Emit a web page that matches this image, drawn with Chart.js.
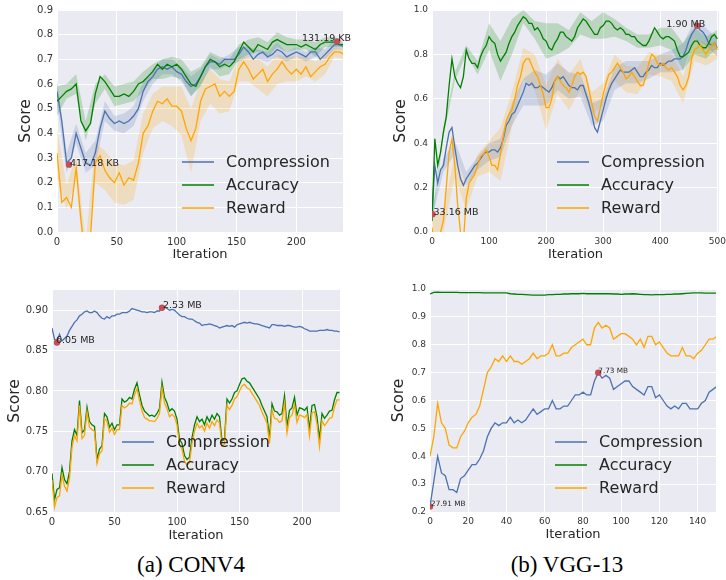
<!DOCTYPE html>
<html>
<head>
<meta charset="utf-8">
<script src="https://cdn.jsdelivr.net/npm/chart.js@4.4.0/dist/chart.umd.min.js"></script>
<style>
  body { margin: 0; width: 726px; height: 580px; overflow: hidden; background: #fff; position: relative; }
  canvas { position: absolute; }
  .caption { position: absolute; width: 220px; text-align: center; font-family: "Liberation Serif", serif; font-size: 23px; line-height: 26px; color: #000; }
</style>
</head>
<body>
<canvas id="conv4-search" width="363" height="270" style="left:0;top:0"></canvas>
<canvas id="vgg13-search" width="380" height="270" style="left:363px;top:0"></canvas>
<canvas id="conv4-tune" width="363" height="275" style="left:0;top:270px"></canvas>
<canvas id="vgg13-tune" width="380" height="275" style="left:363px;top:270px"></canvas>
<div class="caption" style="left:81px;top:552px">(a) CONV4</div>
<div class="caption" style="left:457px;top:552px">(b) VGG-13</div>
<script>
// ─── DADOS ───────────────────────────────────────────────────────────────────

const SERIES_NAMES = ["Compression", "Accuracy", "Reward"];

// CONV4, topo: uma leitura a cada 4 iterações
const conv4SearchStep = 4;
const conv4SearchCompression = [
  0.57, 0.45, 0.28, 0.30, 0.40, 0.34, 0.28, 0.27, 0.32, 0.42,
  0.49, 0.46, 0.44, 0.45, 0.44, 0.45, 0.47, 0.50, 0.57, 0.61,
  0.63, 0.66, 0.67, 0.66, 0.67, 0.65, 0.64, 0.61, 0.59, 0.60,
  0.63, 0.67, 0.69, 0.69, 0.68, 0.70, 0.70, 0.70, 0.72, 0.75,
  0.73, 0.70, 0.72, 0.73, 0.71, 0.72, 0.74, 0.73, 0.71, 0.72,
  0.73, 0.72, 0.71, 0.73, 0.73, 0.70, 0.72, 0.74, 0.76, 0.76, 0.75
];
const conv4SearchAccuracy = [
  0.53, 0.55, 0.57, 0.58, 0.60, 0.45, 0.41, 0.44, 0.56, 0.63,
  0.61, 0.58, 0.55, 0.55, 0.56, 0.55, 0.57, 0.60, 0.61, 0.63,
  0.65, 0.68, 0.66, 0.68, 0.67, 0.68, 0.66, 0.63, 0.60, 0.59,
  0.63, 0.67, 0.70, 0.69, 0.67, 0.68, 0.67, 0.69, 0.73, 0.77,
  0.75, 0.73, 0.76, 0.75, 0.74, 0.77, 0.78, 0.77, 0.76, 0.76,
  0.76, 0.75, 0.76, 0.75, 0.74, 0.76, 0.77, 0.77, 0.77, 0.76, 0.76
];
const conv4SearchReward = [
  0.32, 0.12, 0.14, 0.10, 0.26, 0.05, -0.12, -0.02, 0.28, 0.31,
  0.25, 0.22, 0.20, 0.24, 0.19, 0.22, 0.21, 0.28, 0.40, 0.43,
  0.49, 0.53, 0.52, 0.54, 0.51, 0.51, 0.49, 0.42, 0.37, 0.42,
  0.53, 0.58, 0.59, 0.60, 0.55, 0.57, 0.55, 0.57, 0.66, 0.69,
  0.66, 0.62, 0.64, 0.66, 0.61, 0.64, 0.66, 0.69, 0.66, 0.64,
  0.66, 0.64, 0.67, 0.63, 0.65, 0.67, 0.68, 0.71, 0.73, 0.73, 0.72
];
// meia largura da faixa sombreada, a cada 8 iterações
const conv4SearchSpreadStep = 8;
const conv4SearchCompressionSpread = [
  0.05, 0.04, 0.04, 0.04, 0.05, 0.04, 0.03, 0.04, 0.04, 0.04,
  0.03, 0.03, 0.03, 0.03, 0.04, 0.03, 0.03, 0.02, 0.02, 0.03,
  0.02, 0.02, 0.02, 0.03, 0.02, 0.02, 0.02, 0.02, 0.02, 0.02, 0.01
];
const conv4SearchAccuracySpread = [
  0.06, 0.03, 0.04, 0.04, 0.04, 0.03, 0.04, 0.04, 0.04, 0.04,
  0.03, 0.04, 0.04, 0.04, 0.05, 0.04, 0.03, 0.04, 0.03, 0.03,
  0.03, 0.03, 0.03, 0.03, 0.03, 0.02, 0.02, 0.03, 0.02, 0.02, 0.01
];
const conv4SearchRewardSpread = [
  0.10, 0.05, 0.05, 0.08, 0.08, 0.08, 0.08, 0.08, 0.08, 0.08,
  0.07, 0.07, 0.08, 0.10, 0.13, 0.08, 0.07, 0.07, 0.06, 0.05,
  0.05, 0.06, 0.06, 0.06, 0.05, 0.05, 0.04, 0.04, 0.04, 0.02, 0.02
];
const conv4SearchMarks = [
  { x: 10, y: 0.273, label: "417.18 KB" },
  { x: 234, y: 0.773, label: "131.19 KB" }
];
const conv4SearchTicksX = [0, 50, 100, 150, 200];
const conv4SearchTicksY = [0.0, 0.1, 0.2, 0.3, 0.4, 0.5, 0.6, 0.7, 0.8, 0.9];

// VGG-13, topo: uma leitura a cada 5 iterações
const vgg13SearchStep = 5;
const vgg13SearchCompression = [
  0.08, 0.30, 0.22, 0.28, 0.30, 0.38, 0.45, 0.47, 0.38, 0.30,
  0.24, 0.21, 0.24, 0.26, 0.28, 0.30, 0.31, 0.33, 0.35, 0.36,
  0.36, 0.37, 0.37, 0.36, 0.38, 0.42, 0.48, 0.50, 0.53, 0.54,
  0.57, 0.60, 0.63, 0.67, 0.66, 0.67, 0.65, 0.65, 0.66, 0.65,
  0.64, 0.63, 0.65, 0.68, 0.70, 0.69, 0.70, 0.68, 0.66, 0.65,
  0.65, 0.64, 0.66, 0.66, 0.62, 0.58, 0.53, 0.47, 0.45, 0.50,
  0.55, 0.60, 0.64, 0.67, 0.69, 0.71, 0.73, 0.72, 0.72, 0.72,
  0.73, 0.74, 0.72, 0.70, 0.70, 0.72, 0.73, 0.75, 0.74, 0.74,
  0.76, 0.75, 0.76, 0.77, 0.77, 0.78, 0.78, 0.78, 0.79, 0.82,
  0.86, 0.89, 0.91, 0.93, 0.91, 0.90, 0.88, 0.85, 0.84, 0.85, 0.83
];
const vgg13SearchAccuracy = [
  0.05, 0.42, 0.30, 0.36, 0.45, 0.52, 0.66, 0.78, 0.70, 0.67,
  0.65, 0.70, 0.82, 0.78, 0.76, 0.76, 0.74, 0.79, 0.82, 0.84,
  0.88, 0.86, 0.85, 0.80, 0.77, 0.79, 0.81, 0.85, 0.88, 0.90,
  0.93, 0.95, 0.97, 0.96, 0.94, 0.94, 0.91, 0.92, 0.90, 0.87,
  0.86, 0.83, 0.82, 0.85, 0.87, 0.90, 0.90, 0.88, 0.87, 0.86,
  0.88, 0.92, 0.94, 0.96, 0.95, 0.93, 0.91, 0.89, 0.89, 0.92,
  0.93, 0.95, 0.95, 0.94, 0.92, 0.91, 0.92, 0.91, 0.89, 0.89,
  0.88, 0.88, 0.86, 0.85, 0.84, 0.84, 0.86, 0.89, 0.92, 0.90,
  0.88, 0.87, 0.88, 0.88, 0.87, 0.86, 0.82, 0.79, 0.79, 0.80,
  0.81, 0.84, 0.86, 0.86, 0.84, 0.83, 0.83, 0.85, 0.88, 0.89, 0.87
];
const vgg13SearchReward = [
  0.02, -0.10, -0.10, 0.00, 0.05, 0.20, 0.36, 0.42, 0.30, 0.12,
  0.00, -0.05, 0.15, 0.22, 0.24, 0.26, 0.30, 0.34, 0.35, 0.37,
  0.34, 0.30, 0.30, 0.28, 0.35, 0.43, 0.50, 0.53, 0.55, 0.60,
  0.66, 0.70, 0.76, 0.78, 0.78, 0.75, 0.72, 0.70, 0.66, 0.62,
  0.56, 0.56, 0.60, 0.68, 0.70, 0.68, 0.66, 0.65, 0.63, 0.66,
  0.70, 0.72, 0.71, 0.72, 0.70, 0.64, 0.58, 0.52, 0.50, 0.56,
  0.62, 0.67, 0.71, 0.72, 0.74, 0.76, 0.74, 0.72, 0.69, 0.70,
  0.72, 0.70, 0.68, 0.66, 0.66, 0.70, 0.76, 0.80, 0.79, 0.76,
  0.75, 0.76, 0.74, 0.73, 0.74, 0.72, 0.70, 0.66, 0.64, 0.66,
  0.70, 0.78, 0.82, 0.83, 0.84, 0.82, 0.80, 0.82, 0.84, 0.85, 0.82
];
// meia largura da faixa, a cada 20 iterações
const vgg13SearchSpreadStep = 20;
const vgg13SearchCompressionSpread = [
  0.02, 0.03, 0.03, 0.03, 0.03, 0.04, 0.04, 0.05, 0.06, 0.08,
  0.07, 0.06, 0.06, 0.05, 0.05, 0.05, 0.05, 0.05, 0.05, 0.04,
  0.04, 0.05, 0.06, 0.04, 0.04, 0.04
];
const vgg13SearchAccuracySpread = [
  0.02, 0.02, 0.02, 0.02, 0.03, 0.06, 0.09, 0.08, 0.03, 0.04,
  0.08, 0.07, 0.04, 0.05, 0.04, 0.06, 0.04, 0.03, 0.03, 0.03,
  0.04, 0.05, 0.06, 0.06, 0.05, 0.04
];
const vgg13SearchRewardSpread = [
  0.04, 0.05, 0.05, 0.05, 0.05, 0.07, 0.12, 0.08, 0.07, 0.08,
  0.10, 0.08, 0.08, 0.07, 0.05, 0.05, 0.06, 0.06, 0.06, 0.05,
  0.05, 0.06, 0.06, 0.05, 0.05, 0.04
];
const vgg13SearchMarks = [
  { x: 1, y: 0.08, label: "33.16 MB" },
  { x: 465, y: 0.929, label: "1.90 MB" }
];
const vgg13SearchTicksX = [0, 100, 200, 300, 400, 500];
const vgg13SearchTicksY = [0.0, 0.2, 0.4, 0.6, 0.8, 1.0];

// CONV4, baixo: uma leitura a cada 2 iterações
const conv4TuneStep = 2;
const conv4TuneCompression = [
  0.878, 0.864, 0.862, 0.870, 0.862, 0.865, 0.868, 0.875, 0.880, 0.885,
  0.888, 0.893, 0.895, 0.898, 0.899, 0.897, 0.897, 0.899, 0.897, 0.893,
  0.890, 0.889, 0.892, 0.890, 0.893, 0.893, 0.895, 0.895, 0.897, 0.897,
  0.897, 0.899, 0.902, 0.901, 0.900, 0.899, 0.898, 0.898, 0.897, 0.898,
  0.898, 0.897, 0.899, 0.899, 0.903, 0.904, 0.902, 0.900, 0.901, 0.900,
  0.897, 0.894, 0.892, 0.892, 0.890, 0.889, 0.889, 0.887, 0.885, 0.884,
  0.881, 0.882, 0.882, 0.883, 0.882, 0.881, 0.880, 0.878, 0.879, 0.880,
  0.881, 0.880, 0.881, 0.879, 0.882, 0.883, 0.884, 0.885, 0.884, 0.885,
  0.884, 0.883, 0.883, 0.882, 0.881, 0.880, 0.879, 0.878, 0.882, 0.882,
  0.881, 0.881, 0.881, 0.880, 0.881, 0.881, 0.880, 0.879, 0.879, 0.880,
  0.879, 0.877, 0.876, 0.874, 0.874, 0.874, 0.874, 0.875, 0.875, 0.875,
  0.876, 0.875, 0.875, 0.874, 0.874, 0.873
];
const conv4TuneAccuracy = [
  0.698, 0.665, 0.678, 0.680, 0.705, 0.690, 0.685, 0.700, 0.738, 0.752,
  0.745, 0.788, 0.748, 0.752, 0.780, 0.762, 0.758, 0.756, 0.715, 0.728,
  0.732, 0.772, 0.768, 0.755, 0.760, 0.752, 0.758, 0.758, 0.790, 0.786,
  0.788, 0.792, 0.790, 0.802, 0.810, 0.795, 0.782, 0.775, 0.772, 0.769,
  0.770, 0.768, 0.772, 0.778, 0.811, 0.792, 0.785, 0.775, 0.778, 0.775,
  0.765, 0.740, 0.735, 0.720, 0.715, 0.718, 0.742, 0.758, 0.768, 0.762,
  0.765, 0.758, 0.768, 0.762, 0.770, 0.765, 0.772, 0.768, 0.738, 0.740,
  0.790, 0.785, 0.790, 0.798, 0.800, 0.808, 0.815, 0.816, 0.812, 0.810,
  0.805, 0.800, 0.795, 0.790, 0.782, 0.775, 0.768, 0.742, 0.784, 0.775,
  0.774, 0.770, 0.772, 0.794, 0.756, 0.776, 0.779, 0.792, 0.770, 0.779,
  0.778, 0.776, 0.780, 0.752, 0.782, 0.783, 0.768, 0.740, 0.772, 0.766,
  0.770, 0.775, 0.776, 0.789, 0.798, 0.798
];
const conv4TuneReward = [
  0.690, 0.656, 0.668, 0.670, 0.696, 0.682, 0.676, 0.692, 0.730, 0.745,
  0.738, 0.782, 0.741, 0.745, 0.774, 0.755, 0.752, 0.750, 0.710, 0.722,
  0.726, 0.766, 0.762, 0.749, 0.754, 0.746, 0.752, 0.752, 0.782, 0.779,
  0.781, 0.785, 0.784, 0.795, 0.803, 0.788, 0.775, 0.767, 0.765, 0.763,
  0.763, 0.762, 0.766, 0.772, 0.804, 0.785, 0.778, 0.768, 0.771, 0.768,
  0.758, 0.733, 0.728, 0.713, 0.708, 0.711, 0.735, 0.750, 0.760, 0.754,
  0.757, 0.750, 0.760, 0.754, 0.762, 0.757, 0.764, 0.760, 0.732, 0.734,
  0.782, 0.777, 0.782, 0.790, 0.793, 0.800, 0.806, 0.808, 0.804, 0.802,
  0.797, 0.792, 0.787, 0.782, 0.774, 0.767, 0.760, 0.735, 0.776, 0.766,
  0.765, 0.761, 0.763, 0.785, 0.748, 0.767, 0.770, 0.783, 0.761, 0.770,
  0.769, 0.767, 0.771, 0.744, 0.773, 0.774, 0.759, 0.731, 0.763, 0.757,
  0.761, 0.766, 0.767, 0.780, 0.789, 0.789
];
const conv4TuneMarks = [
  { x: 4, y: 0.860, label: "6.05 MB" },
  { x: 88, y: 0.903, label: "2.53 MB" }
];
const conv4TuneTicksX = [0, 50, 100, 150, 200];
const conv4TuneTicksY = [0.65, 0.70, 0.75, 0.80, 0.85, 0.90];

// VGG-13, baixo: uma leitura a cada 2 iterações
const vgg13TuneStep = 2;
const vgg13TuneCompression = [
  0.22, 0.31, 0.40, 0.34, 0.33, 0.28, 0.28, 0.27, 0.32, 0.33,
  0.35, 0.37, 0.37, 0.39, 0.42, 0.47, 0.50, 0.52, 0.51, 0.52,
  0.52, 0.54, 0.52, 0.53, 0.52, 0.53, 0.55, 0.57, 0.55, 0.56,
  0.57, 0.57, 0.60, 0.57, 0.57, 0.58, 0.58, 0.60, 0.62, 0.62,
  0.63, 0.62, 0.62, 0.67, 0.70, 0.68, 0.69, 0.68, 0.64, 0.65,
  0.66, 0.67, 0.67, 0.65, 0.64, 0.63, 0.62, 0.65, 0.65, 0.61,
  0.62, 0.60, 0.58, 0.57, 0.58, 0.57, 0.59, 0.59, 0.57, 0.57,
  0.57, 0.59, 0.60, 0.63, 0.64, 0.65
];
const vgg13TuneAccuracy = [
  0.982, 0.988, 0.989, 0.988, 0.988, 0.988, 0.988, 0.988, 0.987, 0.987,
  0.987, 0.987, 0.987, 0.987, 0.986, 0.986, 0.986, 0.986, 0.986, 0.986,
  0.986, 0.983, 0.982, 0.981, 0.981, 0.980, 0.979, 0.978, 0.978, 0.978,
  0.978, 0.980, 0.980, 0.981, 0.981, 0.982, 0.982, 0.983, 0.983, 0.983,
  0.984, 0.983, 0.983, 0.983, 0.983, 0.983, 0.983, 0.983, 0.982, 0.982,
  0.981, 0.982, 0.982, 0.983, 0.982, 0.981, 0.980, 0.980, 0.979, 0.980,
  0.980, 0.980, 0.981, 0.981, 0.982, 0.982, 0.983, 0.984, 0.985, 0.986,
  0.986, 0.986, 0.985, 0.985, 0.985, 0.985
];
const vgg13TuneReward = [
  0.40, 0.47, 0.59, 0.52, 0.50, 0.44, 0.43, 0.43, 0.47, 0.49,
  0.52, 0.54, 0.55, 0.58, 0.64, 0.70, 0.72, 0.75, 0.74, 0.76,
  0.74, 0.76, 0.74, 0.74, 0.73, 0.74, 0.75, 0.77, 0.75, 0.76,
  0.76, 0.77, 0.80, 0.76, 0.76, 0.77, 0.77, 0.79, 0.80, 0.81,
  0.82, 0.80, 0.80, 0.86, 0.88, 0.86, 0.87, 0.86, 0.82, 0.83,
  0.84, 0.84, 0.83, 0.82, 0.80, 0.82, 0.79, 0.83, 0.83, 0.80,
  0.81, 0.79, 0.77, 0.76, 0.76, 0.76, 0.79, 0.76, 0.76, 0.75,
  0.77, 0.78, 0.80, 0.82, 0.82, 0.83
];
const vgg13TuneMarks = [
  { x: 0, y: 0.22, label: "27.91 MB" },
  { x: 88, y: 0.70, label: "7.73 MB" }
];
const vgg13TuneTicksX = [0, 20, 40, 60, 80, 100, 120, 140];
const vgg13TuneTicksY = [0.2, 0.3, 0.4, 0.5, 0.6, 0.7, 0.8, 0.9, 1.0];

// ─── ESTILO ──────────────────────────────────────────────────────────────────

const FONT = "'DejaVu Sans', sans-serif";
const COR_COMPRESSAO = "#4C72B0";
const COR_ACURACIA   = "#008000";
const COR_RECOMPENSA = "#FFA500";
const COR_MARCA      = "#C44E52";
const COR_TEXTO      = "#262626";
const FUNDO_PLOT     = "#EAEAF2";
const CORES_LINHA = [COR_COMPRESSAO, COR_ACURACIA, COR_RECOMPENSA];
const CORES_FAIXA = ["rgba(76,114,176,0.2)", "rgba(0,128,0,0.2)", "rgba(255,165,0,0.2)"];

// fundo cinza-azulado do seaborn
const fundoPlot = {
  id: "fundoPlot",
  beforeDraw(chart) {
    const { ctx, chartArea: a } = chart;
    ctx.save();
    ctx.fillStyle = FUNDO_PLOT;
    ctx.fillRect(a.left, a.top, a.right - a.left, a.bottom - a.top);
    ctx.restore();
  }
};

// legenda dentro do gráfico + rótulos dos pontos vermelhos
const extras = {
  id: "extras",
  afterDatasetsDraw(chart, args, opts) {
    const { ctx, scales } = chart;
    ctx.save();
    ctx.font = `${opts.markSize}px ${FONT}`;
    ctx.fillStyle = COR_TEXTO;
    ctx.textBaseline = "alphabetic";
    opts.marks.forEach((m, i) => {
      const [dx, dy] = opts.markOffsets[i];
      ctx.fillText(m.label, scales.x.getPixelForValue(m.x) + dx, scales.y.getPixelForValue(m.y) + dy);
    });

    const lg = opts.legend;
    ctx.font = `16px ${FONT}`;
    ctx.textBaseline = "middle";
    SERIES_NAMES.forEach((nome, i) => {
      const y = lg.y + i * 23;
      ctx.strokeStyle = CORES_LINHA[i];
      ctx.lineWidth = 1.5;
      ctx.beginPath();
      ctx.moveTo(lg.x, y);
      ctx.lineTo(lg.x + 32, y);
      ctx.stroke();
      ctx.fillStyle = COR_TEXTO;
      ctx.fillText(nome, lg.x + 44, y + 1);
    });
    ctx.restore();
  }
};

function serie(vals, step) {
  return vals.map((v, i) => ({ x: i * step, y: v }));
}

function montarPainel(p) {
  const linhas = [p.compression, p.accuracy, p.reward];
  const datasets = [
    {
      data: p.marks.map(m => ({ x: m.x, y: m.y })),
      showLine: false, pointRadius: 3.2, pointBackgroundColor: COR_MARCA,
      pointBorderWidth: 0, order: 0
    }
  ];
  // Reward por cima, Compression por baixo
  [2, 1, 0].forEach(k => {
    datasets.push({
      data: serie(linhas[k], p.step),
      borderColor: CORES_LINHA[k], borderWidth: 1.3,
      pointRadius: 0, fill: false, order: 3 - k
    });
  });

  // faixas: limite inferior seguido do superior, preenchido até o anterior
  if (p.spreads) {
    const passo = p.spreadStep / p.step;
    p.spreads.forEach((larg, k) => {
      const centro = i => linhas[k][i * passo];
      datasets.push({
        data: larg.map((w, i) => ({ x: i * p.spreadStep, y: centro(i) - w })),
        borderWidth: 0, pointRadius: 0, fill: false, order: 10
      });
      datasets.push({
        data: larg.map((w, i) => ({ x: i * p.spreadStep, y: centro(i) + w })),
        borderWidth: 0, pointRadius: 0, fill: "-1",
        backgroundColor: CORES_FAIXA[k], order: 10
      });
    });
  }

  const eixo = (ticks, tamanho, fmt) => ({
    grid: { color: "#ffffff", lineWidth: 1, drawTicks: false },
    border: { display: false },
    afterBuildTicks: s => { s.ticks = ticks.map(v => ({ value: v })); },
    ticks: {
      autoSkip: false, maxRotation: 0, padding: 4, color: "#333",
      font: { family: FONT, size: tamanho }, callback: fmt
    }
  });

  const b = p.box;
  const x = eixo(p.xTicks, b.tickSize, v => String(v));
  Object.assign(x, {
    type: "linear", min: 0, max: p.xMax,
    afterFit: s => { s.height = b.xHeight; },
    title: {
      display: true, text: "Iteration", color: COR_TEXTO,
      font: { family: FONT, size: 13 }, padding: { top: 0, bottom: b.iterGap }
    }
  });
  const y = eixo(p.yTicks, b.tickSize, v => v.toFixed(p.yDigits));
  Object.assign(y, {
    min: p.yMin, max: p.yMax,
    afterFit: s => { s.width = b.yWidth; },
    title: {
      display: true, text: "Score", color: COR_TEXTO,
      font: { family: FONT, size: 15.5 }, padding: { top: b.scoreGap, bottom: 0 }
    }
  });

  new Chart(document.getElementById(p.canvas), {
    type: "line",
    data: { datasets },
    options: {
      responsive: false,
      animation: false,
      events: [],
      layout: { padding: { top: b.top, right: b.right, left: 0, bottom: 0 } },
      plugins: {
        legend: { display: false },
        tooltip: { enabled: false },
        filler: { drawTime: "beforeDatasetsDraw" },
        extras: { marks: p.marks, markOffsets: p.markOffsets, markSize: p.markSize, legend: p.legend }
      },
      scales: { x, y }
    },
    plugins: [fundoPlot, extras]
  });
}

montarPainel({
  canvas: "conv4-search", step: conv4SearchStep,
  compression: conv4SearchCompression, accuracy: conv4SearchAccuracy, reward: conv4SearchReward,
  spreadStep: conv4SearchSpreadStep,
  spreads: [conv4SearchCompressionSpread, conv4SearchAccuracySpread, conv4SearchRewardSpread],
  marks: conv4SearchMarks, markOffsets: [[1, 1], [-35, 0]], markSize: 9.5,
  xMax: 239, yMin: 0, yMax: 0.9, xTicks: conv4SearchTicksX, yTicks: conv4SearchTicksY, yDigits: 1,
  box: { yWidth: 57, xHeight: 38, top: 10, right: 20, scoreGap: 17, iterGap: 8, tickSize: 10 },
  legend: { x: 182, y: 162 }
});

montarPainel({
  canvas: "vgg13-search", step: vgg13SearchStep,
  compression: vgg13SearchCompression, accuracy: vgg13SearchAccuracy, reward: vgg13SearchReward,
  spreadStep: vgg13SearchSpreadStep,
  spreads: [vgg13SearchCompressionSpread, vgg13SearchAccuracySpread, vgg13SearchRewardSpread],
  marks: vgg13SearchMarks, markOffsets: [[1, 1], [-31, 1]], markSize: 9.5,
  xMax: 503, yMin: 0, yMax: 1.0, xTicks: vgg13SearchTicksX, yTicks: vgg13SearchTicksY, yDigits: 1,
  box: { yWidth: 69, xHeight: 38, top: 10, right: 24, scoreGap: 29, iterGap: 8, tickSize: 9 },
  legend: { x: 194, y: 162 }
});

montarPainel({
  canvas: "conv4-tune", step: conv4TuneStep,
  compression: conv4TuneCompression, accuracy: conv4TuneAccuracy, reward: conv4TuneReward,
  marks: conv4TuneMarks, markOffsets: [[-1, 1], [1, 0]], markSize: 9.5,
  xMax: 230.4, yMin: 0.65, yMax: 0.925, xTicks: conv4TuneTicksX, yTicks: conv4TuneTicksY, yDigits: 2,
  box: { yWidth: 52, xHeight: 33, top: 20, right: 23, scoreGap: 6, iterGap: 2, tickSize: 10 },
  legend: { x: 122, y: 172 }
});

montarPainel({
  canvas: "vgg13-tune", step: vgg13TuneStep,
  compression: vgg13TuneCompression, accuracy: vgg13TuneAccuracy, reward: vgg13TuneReward,
  marks: vgg13TuneMarks, markOffsets: [[1, 0], [0, 0]], markSize: 7.3,
  xMax: 149.6, yMin: 0.2, yMax: 1.0, xTicks: vgg13TuneTicksX, yTicks: vgg13TuneTicksY, yDigits: 1,
  box: { yWidth: 67, xHeight: 33, top: 19, right: 27, scoreGap: 27, iterGap: 3, tickSize: 9 },
  legend: { x: 192, y: 172 }
});
</script>
</body>
</html>
